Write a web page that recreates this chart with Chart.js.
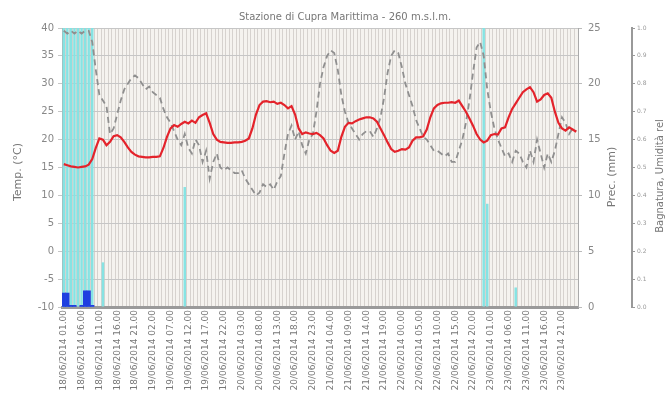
<!DOCTYPE html>
<html>
<head>
<meta charset="utf-8">
<script src="https://cdn.jsdelivr.net/npm/chart.js@4"></script>
<style>
  body { margin: 0; background: #fff; }
  #wrap { width: 665px; height: 414px; }
</style>
</head>
<body>
<div id="wrap"><canvas id="meteoChart" width="665" height="414"></canvas></div>
<script>
const chartTitle = 'Stazione di Cupra Marittima - 260 m.s.l.m.';
const titleTemp = 'Temp. (°C)';
const titlePrec = 'Prec. (mm)';
const titleHum = 'Bagnatura, Umidità rel';

// dati orari dal 18/06/2014 01.00
const startDay = 18;
const startHour = 1;

// temperatura (°C)
const temperatura = [
  15.6,15.4,15.2,15.1,15.0,15.1,15.2,15.5,16.5,18.5,
  20.2,20.0,19.0,19.6,20.6,20.8,20.4,19.6,18.6,17.8,
  17.3,17.0,16.9,16.8,16.8,16.9,16.9,17.0,18.5,20.5,
  22.0,22.6,22.3,22.8,23.2,22.9,23.4,23.0,24.0,24.4,
  24.7,23.0,21.0,20.0,19.6,19.5,19.4,19.4,19.5,19.5,
  19.6,19.8,20.2,22.0,24.5,26.2,26.8,26.9,26.7,26.8,
  26.4,26.6,26.2,25.6,26.0,24.5,22.0,21.0,21.3,21.1,
  21.0,21.2,20.8,20.2,19.0,18.0,17.6,18.0,20.5,22.3,
  23.0,22.9,23.3,23.6,23.8,24.0,24.0,23.8,23.2,22.0,
  20.8,19.5,18.3,17.8,18.0,18.3,18.2,18.6,19.8,20.4,
  20.4,20.6,21.8,24.0,25.6,26.2,26.5,26.6,26.6,26.7,
  26.6,27.0,26.0,25.0,23.8,22.5,21.0,20.0,19.5,19.8,
  20.8,21.0,20.9,22.0,22.2,24.0,25.5,26.5,27.5,28.5,
  29.0,29.4,28.5,26.8,27.2,28.0,28.3,27.5,25.0,23.0,
  22.0,21.6,22.2,21.8,21.4
];

// umidità relativa (0-1)
const umidita = [
  0.99,0.98,0.99,0.98,0.99,0.98,0.99,0.99,0.95,0.85,
  0.76,0.74,0.72,0.62,0.64,0.69,0.74,0.78,0.80,0.82,
  0.83,0.82,0.80,0.78,0.79,0.77,0.76,0.75,0.71,0.68,
  0.66,0.63,0.60,0.58,0.62,0.57,0.55,0.60,0.58,0.52,
  0.56,0.46,0.52,0.55,0.50,0.49,0.50,0.49,0.48,0.48,
  0.49,0.46,0.44,0.42,0.40,0.41,0.44,0.43,0.44,0.42,
  0.45,0.47,0.55,0.62,0.65,0.60,0.63,0.58,0.55,0.60,
  0.62,0.70,0.80,0.86,0.90,0.92,0.91,0.85,0.76,0.70,
  0.66,0.64,0.62,0.60,0.62,0.63,0.63,0.61,0.64,0.68,
  0.75,0.84,0.90,0.92,0.91,0.86,0.80,0.76,0.72,0.67,
  0.64,0.61,0.60,0.58,0.56,0.56,0.55,0.54,0.55,0.52,
  0.52,0.56,0.60,0.66,0.74,0.84,0.93,0.95,0.90,0.78,
  0.70,0.64,0.60,0.57,0.54,0.55,0.52,0.56,0.55,0.52,
  0.50,0.56,0.52,0.60,0.55,0.50,0.55,0.52,0.56,0.62,
  0.68,0.66,0.62,0.64,0.63
];

// bagnatura fogliare (0-1), solo le ore con valore
const bagnaturaOre = [0, 1, 2, 3, 4, 5, 6, 7, 8, 11, 34, 118, 119, 127];
const bagnaturaVal = [1, 1, 1, 1, 1, 1, 1, 1, 1, 0.16, 0.43, 1, 0.37, 0.07];

// precipitazioni (mm), solo le ore con valore
const pioggiaOre = [0, 1, 2, 3, 5, 6, 7, 8];
const pioggiaVal = [1.25, 1.25, 0.15, 0.15, 0.15, 1.45, 1.45, 0.15];

const pad = n => String(n).padStart(2, '0');
const labels = temperatura.map((_, i) => {
  const h = startHour + i;
  return pad(startDay + Math.floor(h / 24)) + '/06/2014 ' + pad(h % 24) + '.00';
});

function sparse(ore, valori) {
  const arr = labels.map(() => null);
  ore.forEach((h, k) => { arr[h] = valori[k]; });
  return arr;
}

function vText(ctx, text, x, y) {
  ctx.save();
  ctx.translate(x, y);
  ctx.rotate(-Math.PI / 2);
  ctx.fillText(text, 0, 0);
  ctx.restore();
}

const decor = {
  id: 'decor',
  beforeDraw(chart) {
    const { ctx, chartArea: a } = chart;
    ctx.save();
    ctx.fillStyle = '#f5f3ef';
    ctx.fillRect(a.left, a.top, a.right - a.left, a.bottom - a.top);
    ctx.restore();
  },
  afterDraw(chart) {
    const ctx = chart.ctx;
    ctx.save();
    ctx.fillStyle = '#777';
    ctx.textAlign = 'center';
    ctx.textBaseline = 'middle';
    ctx.font = '10px "DejaVu Sans"';
    ctx.fillText(chartTitle, 345, 17);
    ctx.font = '11px "DejaVu Sans"';
    vText(ctx, titleTemp, 18, 172);
    vText(ctx, titlePrec, 612, 177);
    ctx.font = '10px "DejaVu Sans"';
    vText(ctx, titleHum, 660, 176);
    ctx.restore();
  }
};

Chart.defaults.font.family = '"DejaVu Sans", sans-serif';

new Chart(document.getElementById('meteoChart'), {
  type: 'bar',
  data: {
    labels: labels,
    datasets: [
      {
        type: 'line', label: 'Temperatura', data: temperatura, yAxisID: 'y',
        borderColor: '#e4232b', borderWidth: 2.2, pointRadius: 0, tension: 0, order: 0
      },
      {
        type: 'line', label: 'Umidità rel.', data: umidita, yAxisID: 'hum',
        borderColor: '#8f8f8f', borderWidth: 1.8, borderDash: [6, 4], pointRadius: 0, tension: 0, order: 1
      },
      {
        label: 'Precipitazioni', data: sparse(pioggiaOre, pioggiaVal), yAxisID: 'prec',
        backgroundColor: '#1f3fe0', barPercentage: 1, categoryPercentage: 1, grouped: false, order: 2
      },
      {
        label: 'Bagnatura', data: sparse(bagnaturaOre, bagnaturaVal), yAxisID: 'hum',
        backgroundColor: '#86e3e3', barPercentage: 0.7, categoryPercentage: 1, grouped: false, order: 3
      }
    ]
  },
  options: {
    responsive: false,
    animation: false,
    devicePixelRatio: 1,
    layout: { padding: { top: 28, left: 0, right: 0, bottom: 0 } },
    plugins: { legend: { display: false }, tooltip: { enabled: false }, title: { display: false } },
    scales: {
      x: {
        offset: true,
        grid: { color: '#d6d2ce', lineWidth: 1, drawTicks: false },
        border: { color: '#9a9a9a', width: 3 },
        ticks: {
          autoSkip: false, maxRotation: 90, minRotation: 90, padding: 3,
          color: '#777', font: { size: 9 },
          callback: function (v, i) { return i % 5 === 0 ? this.getLabelForValue(v) : ''; }
        },
        afterFit(s) { s.height = 107; }
      },
      y: {
        position: 'left', min: -10, max: 40,
        ticks: { stepSize: 5, color: '#888', font: { size: 10 }, padding: 4 },
        grid: { color: '#c6c6c6', tickLength: 4 },
        border: { color: '#aaa' },
        afterFit(s) { s.width = 62; }
      },
      prec: {
        position: 'right', min: 0, max: 25,
        ticks: { stepSize: 5, color: '#888', font: { size: 10 }, padding: 6 },
        grid: { drawOnChartArea: false, tickLength: 4, color: '#bbb' },
        border: { color: '#aaa' },
        afterFit(s) { s.width = 54; }
      },
      hum: {
        position: 'right', min: 0, max: 1,
        ticks: { stepSize: 0.1, color: '#999', font: { size: 6 }, padding: 2,
          callback: v => v.toFixed(1) },
        grid: { drawOnChartArea: false, tickLength: 3, color: '#999' },
        border: { color: '#999', width: 2 },
        afterFit(s) { s.width = 33; }
      }
    }
  },
  plugins: [decor]
});
</script>
</body>
</html>
